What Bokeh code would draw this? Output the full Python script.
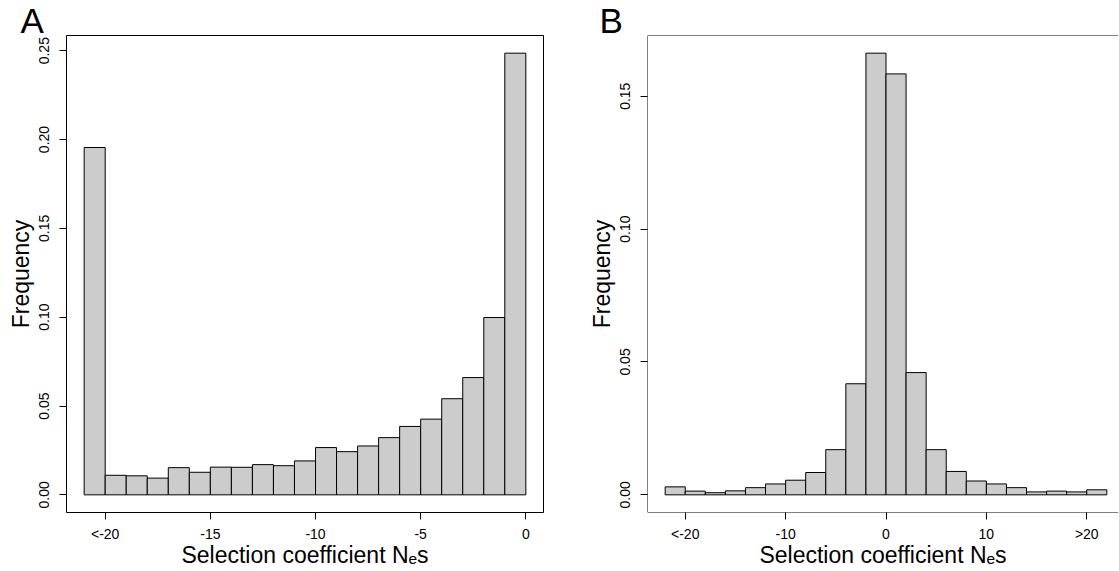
from bokeh.plotting import figure
from bokeh.layouts import row
from bokeh.models import FixedTicker, Span, ColumnDataSource, Title
from bokeh.embed import file_html
from bokeh.resources import INLINE

# ---------------- data ----------------
# Panel A: selection coefficient histogram (bins of width 1, first bin = "<-20")
a_left = [-21, -20, -19, -18, -17, -16, -15, -14, -13, -12, -11,
          -10, -9, -8, -7, -6, -5, -4, -3, -2, -1]
a_right = [-20, -19, -18, -17, -16, -15, -14, -13, -12, -11, -10,
           -9, -8, -7, -6, -5, -4, -3, -2, -1, 0]
a_freq = [0.1955, 0.0110, 0.0107, 0.0094, 0.0153, 0.0127, 0.0156, 0.0155,
          0.0170, 0.0164, 0.0191, 0.0266, 0.0243, 0.0275, 0.0322, 0.0385,
          0.0426, 0.0541, 0.0660, 0.0998, 0.2486]
a_xticks = [-20, -15, -10, -5, 0]
a_xtick_labels = ["<-20", "-15", "-10", "-5", "0"]
a_yticks = [0.0, 0.05, 0.10, 0.15, 0.20, 0.25]
a_ytick_labels = ["0.00", "0.05", "0.10", "0.15", "0.20", "0.25"]

# Panel B: bins of width 2, outer bins = "<-20" and ">20"
b_left = [-22, -20, -18, -16, -14, -12, -10, -8, -6, -4, -2,
          0, 2, 4, 6, 8, 10, 12, 14, 16, 18, 20]
b_right = [-20, -18, -16, -14, -12, -10, -8, -6, -4, -2, 0,
           2, 4, 6, 8, 10, 12, 14, 16, 18, 20, 22]
b_freq = [0.0030, 0.0014, 0.0008, 0.0015, 0.0027, 0.0041, 0.0055, 0.0084,
          0.0170, 0.0418, 0.1662, 0.1584, 0.0460, 0.0170, 0.0088, 0.0052,
          0.0041, 0.0027, 0.0011, 0.0014, 0.0011, 0.0019]
b_xticks = [-20, -10, 0, 10, 20]
b_xtick_labels = ["<-20", "-10", "0", "10", ">20"]
b_yticks = [0.0, 0.05, 0.10, 0.15]
b_ytick_labels = ["0.00", "0.05", "0.10", "0.15"]

x_title = "Selection coefficient N\u2091s"
y_title = "Frequency"

FONT = "Liberation Sans"
FRAME = 477          # full frame size (px) of each panel
FIG_H = 571
TOP = 35


def make_title(letter, offset):
    t = Title(text=letter, text_font=FONT, text_font_size="35px",
              text_font_style="normal", text_color="black",
              align="left", offset=offset, standoff=0)
    try:
        t.standoff = -8
    except Exception:
        t.text_font_size = "28px"
    return t


def panel(left, right, freq, xticks, xlabels, yticks, ylabels, letter,
          mb_left, mb_right, frame_w, outline, letter_offset):
    lo, hi = min(left), max(right)
    xpad = 0.04 * (hi - lo)
    xs, xe_full = lo - xpad, hi + xpad
    xe = xs + (xe_full - xs) * frame_w / FRAME
    ymax = max(freq)
    ys, ye = -0.04 * ymax, ymax * 1.04

    p = figure(frame_width=frame_w, frame_height=FRAME,
               x_range=(xs, xe), y_range=(ys, ye),
               output_backend="svg", toolbar_location=None,
               min_border_left=mb_left, min_border_right=mb_right,
               min_border_top=TOP, min_border_bottom=FIG_H - TOP - FRAME,
               background_fill_color="white", border_fill_color="white")
    p.title = make_title(letter, letter_offset)
    p.outline_line_color = "black" if outline else None
    p.outline_line_width = 1
    p.xgrid.visible = False
    p.ygrid.visible = False

    src = ColumnDataSource(dict(left=left, right=right, top=freq,
                                bottom=[0] * len(freq)))
    p.quad(left="left", right="right", top="top", bottom="bottom", source=src,
           fill_color="#cccccc", line_color="black", line_width=1)

    if not outline:
        for loc, dim in ((ys, "width"), (ye, "width"), (xs, "height")):
            p.add_layout(Span(location=loc, dimension=dim, line_color="black",
                              line_width=1))

    xa = p.xaxis[0]
    xa.ticker = FixedTicker(ticks=xticks)
    xa.major_label_overrides = {t: l for t, l in zip(xticks, xlabels)}
    ya = p.yaxis[0]
    ya.ticker = FixedTicker(ticks=yticks)
    ya.major_label_overrides = {t: l for t, l in zip(yticks, ylabels)}
    for ax in (xa, ya):
        ax.axis_line_color = None
        ax.major_tick_out = 7
        ax.major_tick_in = 0
        ax.minor_tick_line_color = None
        ax.major_tick_line_color = "black"
        ax.major_label_text_font = FONT
        ax.major_label_text_font_size = "14px"
        ax.major_label_text_color = "black"
        ax.axis_label_text_font = FONT
        ax.axis_label_text_font_size = "23px"
        ax.axis_label_text_font_style = "normal"
        ax.axis_label_text_color = "black"
    xa.major_label_standoff = 6
    xa.axis_label = x_title
    xa.axis_label_standoff = 0
    try:
        xa.axis_label_standoff = -3
    except Exception:
        pass
    ya.major_label_standoff = 10
    ya.major_label_orientation = "vertical"
    ya.axis_label = y_title
    ya.axis_label_standoff = 3
    return p


pa = panel(a_left, a_right, a_freq, a_xticks, a_xtick_labels, a_yticks,
           a_ytick_labels, "A", 66, 23, FRAME, True, -46)
pb = panel(b_left, b_right, b_freq, b_xticks, b_xtick_labels, b_yticks,
           b_ytick_labels, "B", 81, 0, 471, False, -48)

layout = row(pa, pb)
open("out.html", "w").write(file_html(layout, INLINE))
